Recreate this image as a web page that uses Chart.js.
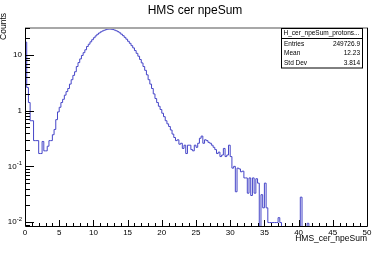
<!DOCTYPE html>
<html>
<head>
<meta charset="utf-8">
<script src="https://cdn.jsdelivr.net/npm/chart.js@4"></script>
<style>
  html, body { margin: 0; padding: 0; background: #fff; }
  #c { display: block; }
</style>
</head>
<body>
<canvas id="c" width="378" height="278"></canvas>
<script>
// histogram: 200 bins of 0.25 from 0 to 50
const binLow = 0;
const binWidth = 0.25;
const counts = [
  17, 2.6, 1.4, 0.66, 0.66, 0.29, 0.29, 0.29, 0.17, 0.17,
  0.28, 0.19, 0.19, 0.23, 0.29, 0.29, 0.37, 0.46, 0.69, 0.95,
  1.15, 1.4, 1.6, 1.9, 2.2, 2.5, 3.0, 3.6, 4.3, 5.0,
  6.2, 7.3, 8.5, 9.8, 11.0, 12.4, 14.2, 15.6, 17.2, 18.8,
  20.4, 22.0, 23.5, 24.8, 26.0, 27.0, 27.8, 28.5, 29.0, 29.2,
  29.0, 28.6, 28.0, 27.2, 26.2, 25.0, 23.6, 22.2, 20.7, 19.2,
  17.6, 16.2, 14.7, 13.4, 12.0, 10.7, 9.5, 8.3, 7.2, 6.2,
  5.3, 4.4, 3.6, 3.0, 2.5, 2.0, 1.65, 1.4, 1.2, 1.05,
  0.9, 0.78, 0.66, 0.58, 0.52, 0.45, 0.38, 0.33, 0.29, 0.30,
  0.25, 0.26, 0.21, 0.24, 0.17, 0.24, 0.24, 0.20, 0.19, 0.24,
  0.22, 0.26, 0.32, 0.35, 0.26, 0.30, 0.29, 0.27, 0.26, 0.24,
  0.22, 0.20, 0.17, 0.18, 0.15, 0.16, 0.21, 0.15, 0.16, 0.24,
  0.15, 0.093, 0.10, 0.035, 0.093, 0.09, 0.08, 0.082, 0.062, 0.062,
  0.033, 0.062, 0.03, 0.062, 0.033, 0.06, 0.05, 0, 0.031, 0.018,
  0.05, 0.018, 0.0098, 0.0098, 0.0098, 0.0098, 0.0098, 0.0098, 0.012, 0.0098,
  0, 0, 0, 0, 0, 0, 0, 0, 0, 0,
  0, 0.028, 0, 0, 0, 0.0095, 0, 0, 0, 0,
  0, 0, 0, 0, 0, 0, 0, 0, 0, 0,
  0, 0, 0, 0, 0, 0, 0, 0, 0, 0,
  0, 0, 0, 0, 0, 0, 0, 0, 0, 0
];

const xTickValues = [0, 5, 10, 15, 20, 25, 30, 35, 40, 45, 50];
const yTickValues = [0.01, 0.1, 1, 10];
const yTickLabels = [['10', '-2'], ['10', '-1'], ['1', ''], ['10', '']];

const titleText = 'HMS cer npeSum';
const xTitle = 'HMS_cer_npeSum';
const yTitle = 'Counts';
const statsName = 'H_cer_npeSum_protons...';
const statsRows = [['Entries', '249726.9'], ['Mean', '12.23'], ['Std Dev', '3.814']];

const FONT = '"Liberation Sans", Arial, sans-serif';
const Y_MIN = 0.0085, Y_MAX = 30.5;

// step points at bin low edges, plus the last upper edge.
// empty bins go below the axis (log scale drops zeros) and get clipped there
const points = counts.map((c, i) => ({ x: binLow + i * binWidth, y: c > 0 ? c : Y_MIN / 10 }));
points.push({ x: binLow + counts.length * binWidth, y: points[points.length - 1].y });

// ROOT-like frame, ticks, labels and stats box
const rootStyle = {
  id: 'rootStyle',
  afterDraw(chart) {
    const ctx = chart.ctx;
    const a = chart.chartArea;
    const xs = chart.scales.x, ys = chart.scales.y;
    ctx.save();

    // frame
    ctx.strokeStyle = '#a8a8a8';
    ctx.lineWidth = 2;
    ctx.beginPath();
    ctx.moveTo(a.left, a.top);
    ctx.lineTo(a.right + 1, a.top);
    ctx.stroke();

    ctx.strokeStyle = '#000';
    ctx.lineWidth = 1;
    ctx.beginPath();
    ctx.moveTo(Math.round(a.left) + 0.5, a.top);
    ctx.lineTo(Math.round(a.left) + 0.5, Math.round(a.bottom) + 0.5);
    ctx.lineTo(Math.round(a.right) + 0.5, Math.round(a.bottom) + 0.5);
    ctx.lineTo(Math.round(a.right) + 0.5, a.top);
    ctx.stroke();

    // x ticks (inside)
    ctx.beginPath();
    for (let v = 0; v <= 50; v++) {
      const px = Math.round(xs.getPixelForValue(v)) + 0.5;
      const len = v % 5 === 0 ? 6 : 3;
      ctx.moveTo(px, a.bottom);
      ctx.lineTo(px, a.bottom - len);
    }
    // y ticks (inside), log decades
    for (let d = -3; d <= 1; d++) {
      for (let k = 1; k <= 9; k++) {
        const v = k * Math.pow(10, d);
        if (v < ys.min || v > ys.max) continue;
        const py = Math.round(ys.getPixelForValue(v)) + 0.5;
        const len = k === 1 ? 9 : 5;
        ctx.moveTo(a.left, py);
        ctx.lineTo(a.left + len, py);
      }
    }
    ctx.stroke();

    // x tick labels
    ctx.fillStyle = '#000';
    ctx.font = '8px ' + FONT;
    ctx.textAlign = 'center';
    ctx.textBaseline = 'middle';
    xTickValues.forEach(v => {
      ctx.fillText(String(v), xs.getPixelForValue(v), a.bottom + 7);
    });

    // y tick labels with superscripts
    yTickValues.forEach((v, i) => {
      const py = ys.getPixelForValue(v);
      const base = yTickLabels[i][0], sup = yTickLabels[i][1];
      let right = a.left - 3;
      ctx.textAlign = 'right';
      if (sup) {
        ctx.font = '6px ' + FONT;
        ctx.fillText(sup, right, py - 3);
        right -= ctx.measureText(sup).width;
      }
      ctx.font = '8px ' + FONT;
      ctx.fillText(base, right, py);
    });

    // axis titles
    ctx.font = '8.5px ' + FONT;
    ctx.textAlign = 'right';
    ctx.fillText(xTitle, a.right, a.bottom + 13);
    ctx.save();
    ctx.translate(4, 13);
    ctx.rotate(-Math.PI / 2);
    ctx.textAlign = 'right';
    ctx.fillText(yTitle, 0, 0);
    ctx.restore();

    // title
    ctx.font = '12px ' + FONT;
    ctx.textAlign = 'center';
    ctx.fillText(titleText, 195, 11);

    // stats box
    const bx = 281, by = 28, bw = 81, rowH = 9.5;
    const bh = 10 + rowH * statsRows.length + 1;
    ctx.fillStyle = '#fff';
    ctx.fillRect(bx, by, bw, bh);
    ctx.strokeStyle = '#000';
    ctx.lineWidth = 1;
    ctx.strokeRect(bx + 0.5, by + 0.5, bw, bh);
    ctx.beginPath();
    ctx.moveTo(bx, by + 10.5);
    ctx.lineTo(bx + bw, by + 10.5);
    ctx.stroke();
    ctx.fillStyle = '#000';
    ctx.font = '6.5px ' + FONT;
    ctx.textAlign = 'center';
    ctx.fillText(statsName, bx + bw / 2, by + 5.5);
    statsRows.forEach((r, i) => {
      const ry = by + 10 + rowH * (i + 0.5) + 1;
      ctx.textAlign = 'left';
      ctx.fillText(r[0], bx + 3, ry);
      ctx.textAlign = 'right';
      ctx.fillText(r[1], bx + bw - 2, ry);
    });

    ctx.restore();
  }
};

new Chart(document.getElementById('c'), {
  type: 'line',
  data: {
    datasets: [{
      data: points,
      stepped: 'before',
      borderColor: '#4646c8',
      borderWidth: 1,
      pointRadius: 0,
      fill: false,
      tension: 0,
      clip: 0
    }]
  },
  options: {
    responsive: false,
    animation: false,
    devicePixelRatio: 1,
    layout: { padding: { left: 25, right: 11, top: 28, bottom: 52 } },
    scales: {
      x: { type: 'linear', min: 0, max: 50, display: false },
      y: { type: 'logarithmic', min: Y_MIN, max: Y_MAX, display: false }
    },
    plugins: {
      legend: { display: false },
      tooltip: { enabled: false },
      title: { display: false }
    }
  },
  plugins: [rootStyle]
});
</script>
</body>
</html>
